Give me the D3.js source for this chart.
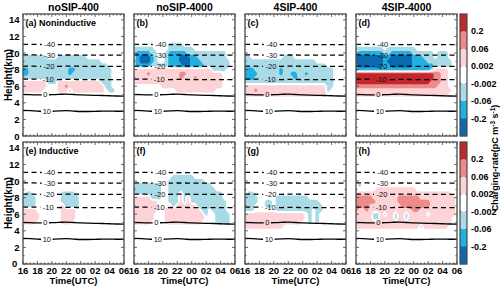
<!DOCTYPE html>
<html><head><meta charset="utf-8">
<script src="https://cdn.jsdelivr.net/npm/d3@7"></script>
<style>
body{margin:0;background:#fff}
svg{display:block}
text{font-family:"Liberation Sans",Arial,sans-serif}
</style>
</head><body>
<svg id="chart" width="500" height="290"></svg>
<script>
// ---------------- DATA ----------------
const simulations = ["noSIP-400", "noSIP-4000", "4SIP-400", "4SIP-4000"];
const processes = ["Noninductive", "Inductive"];
const panelLetters = ["a", "b", "c", "d", "e", "f", "g", "h"];
const timeTicks = [16, 18, 20, 22, 24, 26, 28, 30];
const timeTickLabels = ["16", "18", "20", "22", "00", "02", "04", "06"];
const heightTicks = [0, 2, 4, 6, 8, 10, 12, 14];
const cbBounds = [0.2, 0.06, 0.002, -0.002, -0.06, -0.2];
const cbTickLabels = ["0.2", "0.06", "0.002", "-0.002", "-0.06", "-0.2"];

// isotherms (deg C) : height (km) every hour 16 UTC .. 06 UTC
const isoTemps = [-40, -30, -20, -10, 0, 10];
const isoHours = [16, 17, 18, 19, 20, 21, 22, 23, 24, 25, 26, 27, 28, 29, 30];
const isoM40 = [11.05, 11.05, 11.05, 11.0, 11.0, 11.0, 11.0, 11.0, 11.0, 11.0, 11.0, 11.0, 11.0, 11.0, 11.0];
const isoM30 = [9.78, 9.78, 9.76, 9.75, 9.75, 9.75, 9.76, 9.76, 9.75, 9.75, 9.75, 9.75, 9.75, 9.75, 9.75];
const isoM20 = [8.42, 8.42, 8.4, 8.4, 8.4, 8.4, 8.42, 8.42, 8.4, 8.4, 8.4, 8.4, 8.4, 8.4, 8.4];
const isoM10 = [6.85, 6.85, 6.84, 6.82, 6.8, 6.8, 6.82, 6.82, 6.8, 6.8, 6.8, 6.8, 6.8, 6.8, 6.8];
const iso0 = [5.0, 4.98, 4.95, 4.95, 4.98, 5.02, 5.05, 5.0, 4.95, 4.92, 4.9, 4.88, 4.85, 4.82, 4.8];
const iso10 = [3.1, 3.05, 3.0, 2.95, 2.98, 3.02, 3.05, 3.0, 2.95, 2.95, 2.97, 3.0, 3.0, 2.98, 3.0];
const isoLabelHours = [19.7, 19.7, 19.6, 19.5, 19.1, 19.3];

// charging-rate classes (pC m-3 s-1), one character per grid cell
const classRate = {".": 0, "p": 0.03, "r": 0.13, "R": 0.4, "b": -0.03, "B": -0.13, "D": -0.4};
// grid: 29 columns = 16.0 .. 06.0 UTC every 0.5 h ; rows = 11.5 km (top) .. 3.5 km (bottom) every 0.5 km
const gridHeightsTopDown = [11.5, 11.0, 10.5, 10.0, 9.5, 9.0, 8.5, 8.0, 7.5, 7.0, 6.5, 6.0, 5.5, 5.0, 4.5, 4.0, 3.5];

const rateA = [
  ".............................",
  ".............................",
  ".............................",
  ".............................",
  "bbbbbbb...bbbbbbbb...........",
  "bbbbbbbbbbbbbbbbbbbbbb.......",
  "bbbbbbbbbbbbbbbbbbbbbbbb.....",
  "BBbbbbbbbbbbbBBbbbbbbbbbb....",
  "BBbbbbbbbbbbbBbbbbbbbbbbb....",
  "bbbbbbbbbbbbbbbbbbbbbbbbb....",
  "pppppppbbbppppppppppppbbb....",
  "ppppppp...pprppppppppppbb....",
  "pppppp....pppbppppppppp.bb...",
  ".............................",
  ".............................",
  ".............................",
  "............................."
];
const rateB = [
  ".............................",
  "..........bbbb...............",
  "bbbbbb....bbbbbbb............",
  "bBBBBbb..bBBBBBbbbbbbbbbbb...",
  "bBDDDBb..bBBBDDDBBbbbbbbbb...",
  "bBDDDBb..bBBBDDDBBBbbbbbbbb..",
  "bBBBBbbbbbBBBBDDBBBBbbbbbbb..",
  "ppppppppppppppppppppppbbbb...",
  "pppprpppppppprrpppppppppp....",
  "ppppppppppppprppprppppppp....",
  "ppppppppppppppppppppppppp....",
  "........ppppppppppppppppp....",
  "............ppppppppppp......",
  ".............................",
  ".............................",
  ".............................",
  "............................."
];
const rateC = [
  ".............................",
  ".............................",
  ".............................",
  ".............................",
  "bb.........bbb...............",
  "bbbbbbbbbbbbbbbbbbbb.........",
  "bbbbbbbbbbbbbbbbbbbbbbb......",
  "BBBbbbbbbbBbbbbbbbbbbbbbb....",
  "BBBBbbbbbbBbbBBbbBbbbbbbb....",
  "BBBbbbbbbbbbbbBbbbbbbbbbb....",
  "bbbbbbbbbbbbbbbbbbbbbbbbb....",
  "pppppppppppppppppppppppbb....",
  "ppprpppppppppppppppppppb.....",
  "ppppppppppppppppppppppp......",
  ".............................",
  ".............................",
  "............................."
];
const rateD = [
  ".............................",
  ".............................",
  "bbbbbbbb.bbbbbbbb............",
  "bBBBBBBBbbBBBBBBbbbbbb.bbb...",
  "DDDDDDDDBBDDDDDDBBBbbb.bbb...",
  "DDDDDDDDBDDDDDDDBBBBbbbbbbb..",
  "BDDDDDDDBBDDDDDDBBBBBBbbbbb..",
  "BBBBBBBBBBBBBBBBBBBBBbpppp...",
  "RRRRRRRRRRRRRRRRRRRRRRrrpp...",
  "RRRRRRRRRRRRRRRRRRRRRRrrpp...",
  "RRRRRRRRRRRRRRRRRRRRRrrrpp...",
  "rrrrrrrrrrrrrrrrrrrrrrrppp...",
  "ppppppppppppppppppppppppppp..",
  "pppppppppppppppppppppppppp...",
  ".............................",
  ".............................",
  "............................."
];
const rateE = [
  ".............................",
  ".............................",
  ".............................",
  ".............................",
  ".............................",
  ".............................",
  ".bb........bbbb..............",
  "bbbb.......bbbbb.............",
  "bbbb.......bbbbb.............",
  ".bbb.......pbbbb.............",
  "pppp.......pppp..............",
  "ppppp......pppp..............",
  "ppppp......pppp..............",
  "pppp.......ppp...............",
  ".............................",
  ".............................",
  "............................."
];
const rateF = [
  ".............................",
  ".............................",
  "...........bbbbbb............",
  "..........bbbbbbbbbb.........",
  "bbbbbbbb..bbbbbbbbbbbb.......",
  "bbbbbbbb..bbbbbbbbbbbbb......",
  "bbbbbbbb..bbbpbbbbbbbbbbb....",
  "pppppbbb..bbbpbpbbbbbbbbb....",
  "ppppppp...bbbpbpbbbbbbbbbb...",
  "ppppppp...pbppppppbbbbbbbb...",
  "ppppppp..ppppppppppbb.bbbb...",
  "pppppp...pppppppppppb..bbbb..",
  "pppppp...ppppppppppp...bbbb..",
  "ppppp....pppppppppp....bbbb..",
  ".............................",
  ".............................",
  "............................."
];
const rateG = [
  ".............................",
  ".............................",
  ".............................",
  ".............................",
  ".............................",
  ".............................",
  ".bb..........................",
  "bbbb.....bbbbbbbbb...........",
  "bbbb..bb.bbbbbbbbbbbb........",
  "bbb...bb.bbbbbbbbbbbbb.......",
  "bbb......bbbbbbbbbb.bb.......",
  "ppppppppppppppppp.b.b........",
  "ppppppppppppppppp.b.b........",
  "pppppppppppppppp..b.b........",
  "ppppppppppp..................",
  ".............................",
  "............................."
];
const rateH = [
  ".............................",
  ".............................",
  ".............................",
  ".............................",
  ".b...........................",
  "......ppppppppppp............",
  "ppppppppppppppppppppppppppp..",
  "rrrrrppppppprrrrrrpppppppppp.",
  "rrrrrrpppppprrrrrrrrrppppppp.",
  "rrrrppppppppprrrrrrrrppppppp.",
  "rpprpppppppppppprrpppppppppp.",
  "pppppbbpbppbppbpppppbppppppp.",
  "pppppbbppppbppbpppppppppppp..",
  "ppppppppppppppppppppppppppp..",
  "ppppppppppppppppppbppppppp...",
  ".............................",
  "............................."
];
const panelRates = [rateA, rateB, rateC, rateD, rateE, rateF, rateG, rateH];

// ---------------- LAYOUT ----------------
const svg = d3.select("#chart");
const panelX = [23, 134, 245, 356];
const panelW = 101;
const rowTop = [14, 142];
const panelH = 122;
const cbX = 460, cbW = 7;

const posColors = ["#fcd3d6", "#ee8b88", "#c1272d"];
const negColors = ["#a8dbe6", "#22b0e2", "#0b69af"];
const cbColors = ["#c1272d", "#ee8b88", "#fcd3d6", "#ffffff", "#a8dbe6", "#22b0e2", "#0b69af"];

const levelScale = d3.scaleLinear()
  .domain([-0.6, -0.2, -0.06, -0.002, 0.002, 0.06, 0.2, 0.6])
  .range([-3.5, -2.5, -1.5, -0.5, 0.5, 1.5, 2.5, 3.5]);

const nCols = 29, nRows = gridHeightsTopDown.length;
const t0 = 16, dt = 0.5;
const hBottom = gridHeightsTopDown[nRows - 1], dh = 0.5;
const isoSeries = [isoM40, isoM30, isoM20, isoM10, iso0, iso10];

const defs = svg.append("defs");

panelRates.forEach((rows, p) => {
  const col = p % 4, row = Math.floor(p / 4);
  const x0 = panelX[col], y0 = rowTop[row];
  const xs = d3.scaleLinear().domain([16, 30]).range([x0, x0 + panelW]);
  const ys = d3.scaleLinear().domain([0, 14.7]).range([y0 + panelH, y0]);
  const g = svg.append("g");

  defs.append("clipPath").attr("id", "clip" + p)
    .append("rect").attr("x", x0).attr("y", y0).attr("width", panelW).attr("height", panelH);

  const vals = new Array(nCols * nRows);
  rows.slice().reverse().forEach((s, i) => {
    for (let j = 0; j < nCols; j++) vals[i * nCols + j] = levelScale(classRate[s[j]] || 0);
  });
  const proj = d3.geoTransform({
    point(gx, gy) {
      this.stream.point(xs(t0 + (gx - 0.5) * dt), ys(hBottom + (gy - 0.5) * dh));
    }
  });
  const path = d3.geoPath(proj);
  const gc = g.append("g").attr("clip-path", `url(#clip${p})`);
  const thr = [0.5, 1.5, 2.5];
  const pos = d3.contours().size([nCols, nRows]).thresholds(thr)(vals);
  const neg = d3.contours().size([nCols, nRows]).thresholds(thr)(vals.map(v => -v));
  gc.selectAll("path.pos").data(pos).join("path").attr("class", "pos")
    .attr("d", path).attr("fill", (d, i) => posColors[i]).attr("stroke", "none");
  gc.selectAll("path.neg").data(neg).join("path").attr("class", "neg")
    .attr("d", path).attr("fill", (d, i) => negColors[i]).attr("stroke", "none");

  // isotherms with label gaps
  const maskId = "mask" + p;
  const mask = defs.append("mask").attr("id", maskId).attr("maskUnits", "userSpaceOnUse")
    .attr("x", 0).attr("y", 0).attr("width", 500).attr("height", 290);
  mask.append("rect").attr("x", 0).attr("y", 0).attr("width", 500).attr("height", 290).attr("fill", "#fff");
  const line = d3.line().x((d, i) => xs(isoHours[i])).y(d => ys(d)).curve(d3.curveMonotoneX);
  const gl = g.append("g").attr("clip-path", `url(#clip${p})`);
  isoSeries.forEach((s, k) => {
    const lt = isoLabelHours[k];
    const idx = d3.bisectLeft(isoHours, lt);
    const hy = s[Math.min(idx, s.length - 1)];
    const lx = xs(lt), ly = ys(hy);
    const label = String(isoTemps[k]);
    const w = label.length * 4.3 + 3;
    mask.append("rect").attr("x", lx - w / 2).attr("y", ly - 4).attr("width", w).attr("height", 8).attr("fill", "#000");
    g.append("text").attr("x", lx).attr("y", ly).attr("text-anchor", "middle")
      .attr("dominant-baseline", "central").attr("font-size", 7.5).attr("fill", "#111").text(label);
  });
  const gm = gl.append("g").attr("mask", `url(#${maskId})`);
  isoSeries.forEach((s, k) => {
    gm.append("path").attr("d", line(s)).attr("fill", "none").attr("stroke", "#000")
      .attr("stroke-width", 1.3)
      .attr("stroke-dasharray", isoTemps[k] < 0 ? "5,3.5" : null);
  });

  // ticks (inward, all sides)
  const tk = g.append("g").attr("stroke", "#444").attr("stroke-width", 0.8);
  d3.range(16, 30.01, 0.5).forEach(t => {
    const major = timeTicks.includes(t);
    const len = major ? 3 : 1.6;
    tk.append("line").attr("x1", xs(t)).attr("x2", xs(t)).attr("y1", y0 + panelH).attr("y2", y0 + panelH - len);
    tk.append("line").attr("x1", xs(t)).attr("x2", xs(t)).attr("y1", y0).attr("y2", y0 + len);
  });
  d3.range(0, 14.01, 1).forEach(h => {
    const major = heightTicks.includes(h);
    const len = major ? 3 : 1.6;
    tk.append("line").attr("x1", x0).attr("x2", x0 + len).attr("y1", ys(h)).attr("y2", ys(h));
    tk.append("line").attr("x1", x0 + panelW).attr("x2", x0 + panelW - len).attr("y1", ys(h)).attr("y2", ys(h));
  });

  g.append("rect").attr("x", x0).attr("y", y0).attr("width", panelW).attr("height", panelH)
    .attr("fill", "none").attr("stroke", "#4a4a4a").attr("stroke-width", 1.3);

  g.append("text").attr("x", x0 + 2.5).attr("y", y0 + 11.5).attr("font-size", 9).attr("font-weight", "bold")
    .text(`(${panelLetters[p]})` + (col === 0 ? " " + processes[row] : ""));

  if (row === 0) {
    svg.append("text").attr("x", x0 + panelW / 2).attr("y", 10.5).attr("text-anchor", "middle")
      .attr("font-size", 10.5).attr("font-weight", "bold").text(simulations[col]);
  }
  if (col === 0) {
    heightTicks.forEach(h => {
      const bottomZero = (h === 0 && row === 1);
      svg.append("text").attr("x", x0 - (bottomZero ? 5.8 : 3.5)).attr("y", ys(h) - (bottomZero ? 1 : 0))
        .attr("text-anchor", "end").attr("dominant-baseline", "central")
        .attr("font-size", 9.5).attr("font-weight", "bold").text(h);
    });
    svg.append("text").attr("transform", `translate(8,${y0 + panelH / 2}) rotate(-90)`)
      .attr("text-anchor", "middle").attr("dominant-baseline", "central")
      .attr("font-size", 10).attr("font-weight", "bold").text("Height(km)");
  }
  if (row === 1) {
    timeTicks.forEach((t, i) => {
      svg.append("text").attr("x", xs(t)).attr("y", y0 + panelH + 10).attr("text-anchor", "middle")
        .attr("font-size", 9.5).attr("font-weight", "bold").text(timeTickLabels[i]);
    });
    svg.append("text").attr("x", x0 + panelW / 2).attr("y", y0 + panelH + 19.5).attr("text-anchor", "middle")
      .attr("font-size", 9.5).attr("font-weight", "bold").text("Time(UTC)");
  }
});

// colorbars
rowTop.forEach(y0 => {
  const band = panelH / cbColors.length;
  const g = svg.append("g");
  cbColors.forEach((c, i) => {
    g.append("rect").attr("x", cbX).attr("y", y0 + i * band).attr("width", cbW).attr("height", band + 0.3).attr("fill", c);
  });
  cbBounds.forEach((b, i) => {
    const yy = y0 + (i + 1) * band;
    g.append("line").attr("x1", cbX).attr("x2", cbX + 1.5).attr("y1", yy).attr("y2", yy).attr("stroke", "#444").attr("stroke-width", 0.7);
    g.append("line").attr("x1", cbX + cbW).attr("x2", cbX + cbW - 1.5).attr("y1", yy).attr("y2", yy).attr("stroke", "#444").attr("stroke-width", 0.7);
    g.append("text").attr("x", cbX + cbW + 4).attr("y", yy).attr("dominant-baseline", "central")
      .attr("font-size", 9).attr("font-weight", "bold").text(cbTickLabels[i]);
  });
  g.append("rect").attr("x", cbX).attr("y", y0).attr("width", cbW).attr("height", panelH)
    .attr("fill", "none").attr("stroke", "#4a4a4a").attr("stroke-width", 1.2);
});

const ct = svg.append("text").attr("transform", "translate(495,158) rotate(-90)")
  .attr("text-anchor", "middle").attr("dominant-baseline", "central")
  .attr("font-size", 9).attr("font-weight", "bold");
ct.append("tspan").text("Charging-rate(pC m");
ct.append("tspan").attr("dy", -3).attr("font-size", 6.5).text("-3");
ct.append("tspan").attr("dy", 3).text(" s");
ct.append("tspan").attr("dy", -3).attr("font-size", 6.5).text("-1");
ct.append("tspan").attr("dy", 3).text(")");
</script>
</body></html>
